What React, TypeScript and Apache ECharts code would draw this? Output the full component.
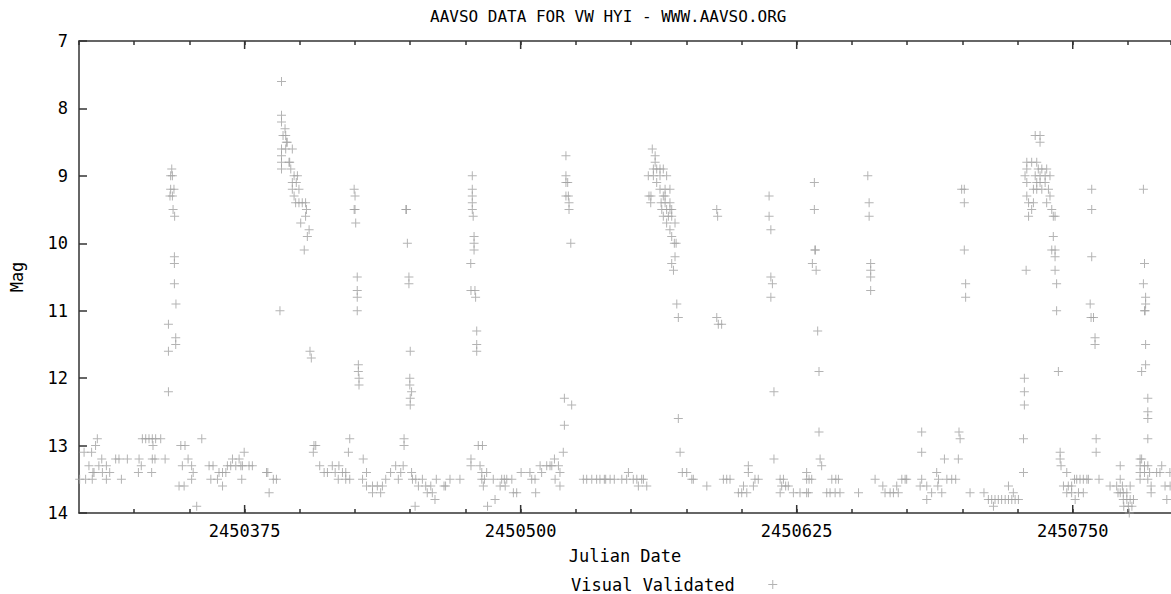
import { useEffect, useRef } from 'react';
import * as echarts from 'echarts';

const TITLE = 'AAVSO DATA FOR VW HYI - WWW.AAVSO.ORG';
const X_NAME = 'Julian Date';
const Y_NAME = 'Mag';
const SERIES_NAME = 'Visual Validated';
const JD_START = 2450300;
const JD_END = 2450794.5;
const JD_STEP = 25;
const MAJOR_TICKS = [2450375, 2450500, 2450625, 2450750];
const MAG_MIN = 7;
const MAG_MAX = 14;

// Observations as [days after JD 2450300, visual magnitude]
const quiet01: [number, number][] = [
  [0.3, 13.5], [2.3, 13.1], [3, 13.5], [4.5, 13.3], [5.7, 13.1], [6, 13.5], [6.3, 13.4], [6.8, 13.4],
  [7.5, 13.0], [8.3, 12.9], [9, 13.3], [10.3, 13.2], [10.6, 13.4], [12.4, 13.3], [12.4, 13.5], [13.9, 13.4],
  [16.6, 13.2], [18.1, 13.2], [19.2, 13.5], [21.9, 13.2], [26.9, 13.4], [27.2, 13.2], [28.2, 13.3],
  [28.7, 12.9], [30.2, 12.9], [31.7, 12.9], [32.9, 13.4], [33.2, 12.9], [33.2, 13.2], [33.5, 13.0],
  [34.4, 13.2], [34.7, 12.9], [37, 12.9], [39, 13.2],
];
const outburst01: [number, number][] = [
  [40.5, 11.2], [40.5, 11.6], [40.5, 12.2], [42, 8.9], [41.5, 9.0], [42.3, 9.0], [41.5, 9.2], [43, 9.2],
  [41.2, 9.3], [42.3, 9.3], [42.6, 9.5], [43.3, 9.6], [43.2, 10.2], [43.2, 10.3], [43.2, 10.6], [43.9, 10.9],
  [43.8, 11.4], [43.8, 11.5],
];
const quiet02: [number, number][] = [
  [45.3, 13.6], [46.1, 13.0], [46.8, 13.3], [47.6, 13.6], [48, 13.0], [49.4, 13.2], [51, 13.3], [51, 13.5],
  [51.7, 13.4], [53.3, 13.9], [55.6, 12.9], [58.9, 13.3], [59.7, 13.5], [60.7, 13.3], [62.7, 13.5],
  [63.4, 13.4], [65, 13.4], [65, 13.6], [66.5, 13.4], [67.2, 13.3], [68.7, 13.3], [69.5, 13.2], [71, 13.3],
  [72.5, 13.2], [73.3, 13.3], [73.7, 13.5], [74, 13.3], [74.8, 13.1], [77, 13.3], [78.5, 13.3],
  [84.9, 13.4], [85.5, 13.4], [86.1, 13.7], [88, 13.5], [89.4, 13.5],
];
const outburst02: [number, number][] = [
  [91.7, 7.6], [91.7, 8.1], [91.7, 8.2], [93.3, 8.3], [92.4, 8.4], [93.6, 8.4], [93.9, 8.5], [94.3, 8.5],
  [91.7, 8.6], [93.6, 8.6], [96.6, 8.6], [91.7, 8.7], [95.1, 8.8], [95.4, 8.8], [91.7, 8.8], [95.9, 8.9],
  [91.7, 8.9], [97.4, 9.0], [98.9, 9.0], [96.6, 9.1], [98.4, 9.1], [96.6, 9.2], [99.6, 9.2], [97.4, 9.3],
  [98.1, 9.4], [99.6, 9.4], [101.1, 9.4], [102.6, 9.4], [103, 9.5], [102.6, 9.6], [100.4, 9.7],
  [104.2, 9.8], [103.4, 9.9], [102, 10.1], [91, 11.0], [104.6, 11.6], [105.2, 11.7], [106.4, 13.0],
  [107.2, 13.0], [106.1, 13.1],
];
const quiet03: [number, number][] = [
  [109, 13.3], [111, 13.4], [112.5, 13.4], [114.7, 13.3], [116, 13.4], [117.7, 13.3], [117.4, 13.5],
  [119.3, 13.4], [120.8, 13.4], [120.8, 13.5], [122.6, 13.5], [122.6, 12.9], [122, 13.1],
];
const outburst03: [number, number][] = [
  [124.6, 9.2], [125, 9.3], [124.6, 9.5], [125, 9.5], [125.3, 9.7], [126, 10.5], [126, 10.7], [126, 10.8],
  [126, 11.0], [126.5, 11.8], [126.5, 11.9], [126.8, 12.0], [126.8, 12.1],
];
const quiet04: [number, number][] = [
  [128.4, 13.5], [128.7, 13.2], [130.2, 13.4], [130.2, 13.6], [132.9, 13.6], [132.9, 13.7], [135.1, 13.6],
  [136.6, 13.7], [137.4, 13.6], [138.9, 13.5], [141.1, 13.4], [143.4, 13.3], [144.6, 13.5], [145.7, 13.4],
  [146.8, 13.3], [147.2, 12.9], [147.2, 13.0],
];
const outburst04: [number, number][] = [
  [148, 9.5], [148.3, 9.5], [148.7, 10.0], [149.4, 10.5], [149.4, 10.6], [150, 11.6], [149.8, 12.0],
  [149.8, 12.1], [150.6, 12.2], [150, 12.3], [150, 12.4],
];
const quiet05: [number, number][] = [
  [150.6, 13.4], [151, 13.5], [152.2, 13.9], [152.5, 13.5], [153.7, 13.6], [155.5, 13.5], [157, 13.6],
  [157.7, 13.7], [159.3, 13.6], [160, 13.7], [161.2, 13.8], [161.8, 13.5], [165.3, 13.6], [166, 13.6],
  [168, 13.5], [172.5, 13.5],
];
const outburst05: [number, number][] = [
  [178.1, 9.0], [178.1, 9.2], [178.1, 9.3], [178.1, 9.4], [178.1, 9.5], [178.5, 9.6], [178.9, 9.9],
  [178.9, 10.0], [178.9, 10.1], [177.4, 10.3], [177.5, 10.7], [179.3, 10.7], [179.6, 10.8], [180.1, 11.3],
  [180.1, 11.5], [180.1, 11.6],
];
const quiet06: [number, number][] = [
  [177.5, 13.2], [177.5, 13.3], [180.8, 13.0], [182.7, 13.0], [181.6, 13.3], [182.4, 13.4], [182.4, 13.5],
  [183.1, 13.6], [183.6, 13.5], [184.6, 13.4], [185, 13.9], [187.6, 13.5], [188.4, 13.8], [190.7, 13.6],
  [191.4, 13.5], [192.6, 13.5], [193, 13.6], [193.7, 13.5], [196, 13.5], [196.7, 13.7], [198.2, 13.7],
  [200.2, 13.4], [204.2, 13.4], [205, 13.5], [206.5, 13.5], [206.8, 13.7], [208.8, 13.3], [209.5, 13.4],
  [211.8, 13.3], [213.3, 13.3], [214.1, 13.3], [215.3, 13.2], [215.6, 13.5], [217.1, 13.3], [217.8, 13.4],
  [217.8, 13.6], [219.3, 13.1],
];
const outburst06: [number, number][] = [
  [220.5, 8.7], [220.5, 9.0], [220.5, 9.1], [221.3, 9.1], [220.5, 9.3], [221.6, 9.3], [221.9, 9.4],
  [221.9, 9.5], [222.7, 10.0], [219.8, 12.3], [223.1, 12.4], [219.8, 12.7],
];
const quiet07: [number, number][] = [
  [228.4, 13.5], [229.9, 13.5], [232.2, 13.5], [234.4, 13.5], [235.9, 13.5], [237.9, 13.5], [238.5, 13.5],
  [240.5, 13.5], [242.4, 13.5], [245.8, 13.5], [248, 13.5], [248.8, 13.4], [251, 13.5], [252.6, 13.5],
  [253.3, 13.6], [254.8, 13.5], [255.6, 13.5], [257.1, 13.6],
];
const outburst07: [number, number][] = [
  [259.6, 8.6], [260.9, 8.7], [260.9, 8.8], [260.1, 8.9], [261.6, 8.9], [263.1, 8.9], [264.6, 8.9],
  [257.8, 9.0], [260.1, 9.0], [263.1, 9.0], [266.1, 9.0], [261.6, 9.1], [263.1, 9.2], [265.4, 9.2],
  [267.6, 9.2], [258.1, 9.3], [259, 9.3], [264.6, 9.3], [265.4, 9.3], [258.9, 9.4], [263.6, 9.4],
  [265.4, 9.4], [267.6, 9.4], [263.9, 9.5], [266.1, 9.5], [267.6, 9.5], [268.4, 9.5], [264.6, 9.6],
  [266.9, 9.6], [268.4, 9.6], [266.1, 9.7], [269.9, 9.7], [267.6, 9.8], [268.4, 9.9], [269.6, 10.0],
  [270.4, 10.0], [269.9, 10.2], [268.4, 10.3], [269.2, 10.4], [270.7, 10.9], [271.4, 11.1], [271.4, 12.6],
  [272.2, 13.1],
];
const quiet08: [number, number][] = [
  [273.2, 13.4], [275.2, 13.4], [277.5, 13.5], [278.2, 13.5], [284.3, 13.6], [288.8, 9.5], [289.2, 9.6],
  [288.8, 11.1], [289.5, 11.2], [291, 11.2], [291.8, 13.5], [293.3, 13.5], [294.8, 13.5], [298.6, 13.7],
  [300.1, 13.7], [300.9, 13.6], [302.4, 13.7], [303.1, 13.4], [303.1, 13.3], [305.4, 13.6], [306.1, 13.5],
  [307.6, 13.5],
];
const outburst08: [number, number][] = [
  [312.5, 9.3], [312.5, 9.6], [313.3, 9.8], [313.3, 10.5], [314, 10.6], [313.3, 10.8], [314.7, 12.2],
  [314.7, 13.2],
];
const quiet09: [number, number][] = [
  [317.5, 13.5], [319, 13.5], [317.5, 13.7], [318.2, 13.6], [320, 13.6], [321.2, 13.6], [323.5, 13.7],
  [326.5, 13.7], [329.5, 13.7], [329.5, 13.4], [329.5, 13.5], [330.6, 13.5], [331.8, 13.5], [330.3, 13.7],
];
const outburst09: [number, number][] = [
  [333, 9.1], [333, 9.5], [333.2, 10.1], [333.5, 10.1], [332.1, 10.3], [333.8, 10.4], [334.5, 11.3],
  [335.1, 11.9], [335.1, 12.8], [335.6, 13.2], [336.3, 13.3],
];
const quiet10: [number, number][] = [
  [338.6, 13.7], [340.1, 13.7], [340.9, 13.5], [342.4, 13.7], [342.7, 13.5], [343.9, 13.5], [344.6, 13.7],
  [353, 13.7],
];
const outburst10: [number, number][] = [
  [357.2, 9.0], [357.8, 9.4], [357.8, 9.6], [358.5, 10.3], [358.5, 10.4], [358.5, 10.5], [358.5, 10.7],
];
const quiet11: [number, number][] = [
  [360.5, 13.5], [364, 13.6], [365, 13.7], [367.3, 13.7], [368.8, 13.7], [370.3, 13.6], [371, 13.7],
  [372.6, 13.5], [374.1, 13.5], [374.8, 13.5], [380.9, 13.6], [381.6, 12.8], [381.6, 13.1], [381.6, 13.5],
  [383.9, 13.6], [383.9, 13.8], [386.1, 13.7], [388.4, 13.4], [388.9, 13.6], [389.2, 13.5], [390.7, 13.7],
  [391.9, 13.2], [393, 13.5], [395.2, 13.5], [397, 13.5],
];
const outburst11: [number, number][] = [
  [399.7, 9.2], [400.9, 9.2], [400.9, 9.4], [400.9, 10.1], [401.5, 10.6], [401.5, 10.8], [398.5, 12.8],
  [399, 12.9], [398.2, 13.2],
];
const quiet12: [number, number][] = [
  [403.5, 13.7], [409.8, 13.7], [411.8, 13.8], [413.3, 13.8], [414.1, 13.9], [414.8, 13.8], [416.3, 13.8],
  [417.8, 13.8], [419.4, 13.8], [420.9, 13.8], [420.9, 13.6], [422.4, 13.8], [423.1, 13.7], [423.9, 13.8],
  [425.4, 13.8],
];
const outburst12: [number, number][] = [
  [427.7, 13.4], [427.7, 12.9], [428.1, 12.4], [428.1, 12.2], [428.1, 12.0], [428.9, 10.4], [433, 8.4],
  [435.2, 8.4], [435.2, 8.5], [429.2, 8.8], [431.4, 8.8], [433.7, 8.8], [429.2, 8.9], [434.4, 8.9],
  [436, 8.9], [438.2, 8.9], [428.4, 9.0], [433, 9.0], [435.2, 9.0], [437.5, 9.0], [439.7, 9.0],
  [429.2, 9.1], [433.7, 9.1], [435.2, 9.1], [437.5, 9.1], [432.2, 9.2], [433.7, 9.2], [436, 9.2],
  [439, 9.2], [429.2, 9.3], [439.7, 9.3], [430, 9.4], [432.2, 9.4], [438.2, 9.4], [431.4, 9.5],
  [440.5, 9.5], [430, 9.6], [441.2, 9.6], [442, 9.6], [441.2, 9.9], [440.5, 10.1], [442, 10.1],
  [442, 10.2], [442, 10.4], [442.7, 10.6], [442.7, 11.0], [443.5, 11.9], [444.3, 13.1], [444.3, 13.2],
  [444.7, 13.3], [447.3, 13.4],
];
const quiet13: [number, number][] = [
  [445.8, 13.6], [447.3, 13.7], [448, 13.6], [449.5, 13.6], [449.5, 13.7], [450.8, 13.5], [451.1, 13.8],
  [451.8, 13.5], [452.6, 13.7], [453.3, 13.5], [454.8, 13.5], [454.8, 13.7], [456.4, 13.5], [457.1, 13.5],
];
const outburst13: [number, number][] = [
  [458.6, 9.2], [458.6, 9.5], [458.6, 10.2], [457.9, 10.9], [458.3, 11.1], [459.4, 11.1], [460.1, 11.4],
  [460.1, 11.5], [460.6, 12.9], [460.6, 13.1],
];
const quiet14: [number, number][] = [
  [461.9, 13.5], [466.9, 13.6], [469.9, 13.6], [471.5, 13.3], [471.5, 13.5], [471.5, 13.7], [472.5, 13.6],
  [470.5, 13.7], [472.9, 13.7], [474.5, 13.7], [476, 13.6], [472.9, 13.8], [474.5, 13.8], [476, 13.8],
  [477.5, 13.8], [473.1, 13.9], [475.2, 13.9], [476.8, 13.9], [475.6, 14.0],
];
const outburst14: [number, number][] = [
  [482, 9.2], [482.5, 10.3], [482, 10.6], [483, 10.8], [483, 10.9], [482.8, 11.0], [482.5, 11.0],
  [483, 11.5], [483, 11.8], [481.2, 11.9], [484, 12.3], [484, 12.5], [484, 12.6], [484, 12.9],
  [480.5, 13.2], [481.2, 13.2], [480.5, 13.3], [482.5, 13.3], [480.5, 13.4], [482.5, 13.4], [484, 13.3],
  [484.8, 13.4], [480.5, 13.5], [484, 13.5], [485.5, 13.6], [485.5, 13.7],
];
const quiet15: [number, number][] = [
  [488, 13.4], [489.5, 13.4], [490.3, 13.3], [491.8, 13.6], [494.1, 13.6], [492.6, 13.8], [494, 13.4],
];

const ALL_SEGMENTS = [
  quiet01, outburst01, quiet02, outburst02, quiet03, outburst03, quiet04, outburst04, quiet05, outburst05,
  quiet06, outburst06, quiet07, outburst07, quiet08, outburst08, quiet09, outburst09, quiet10, outburst10,
  quiet11, outburst11, quiet12, outburst12, quiet13, outburst13, quiet14, outburst14, quiet15,
];

const FONT = "'DejaVu Sans Mono', monospace";
const AXIS_COLOR = '#333333';
const MARK_COLOR = '#a0a0a0';
const PLUS = 'path://M4,0h1v9h-1zM0,4h9v1h-9z';

export default function App() {
  const ref = useRef<HTMLDivElement>(null);
  useEffect(() => {
    if (!ref.current) return;
    const chart = echarts.init(ref.current, undefined, { renderer: 'svg' });
    const points = ALL_SEGMENTS.flat().map(([d, m]) => [JD_START + d, m]);
    const isMajor = (v: number) => MAJOR_TICKS.some((t) => Math.abs(t - v) < 1e-6);
    const axisLine = { show: true, onZero: false, lineStyle: { color: AXIS_COLOR, width: 1.5 } };
    const textBase = { fontFamily: FONT, fontSize: 17, color: '#000' };
    chart.setOption({
      animation: false,
      title: {
        text: TITLE,
        left: 425,
        top: 3,
        textStyle: { fontFamily: FONT, fontSize: 16, fontWeight: 'normal', color: '#000' },
      },
      legend: {
        data: [SERIES_NAME],
        left: 566,
        top: 571,
        align: 'right',
        itemWidth: 66,
        itemHeight: 9,
        textStyle: textBase,
      },
      grid: { left: 79, top: 41, right: 0, bottom: 81, containLabel: false },
      xAxis: [
        {
          type: 'value',
          min: JD_START,
          max: JD_END,
          interval: JD_STEP,
          position: 'bottom',
          axisLine,
          axisTick: { show: true, inside: true, length: 4, lineStyle: { color: AXIS_COLOR, width: 1.5 } },
          axisLabel: {
            ...textBase,
            margin: 9,
            showMinLabel: false,
            showMaxLabel: false,
            formatter: (v: number) => (isMajor(v) ? String(Math.round(v)) : ''),
          },
          splitLine: { show: false },
          name: X_NAME,
          nameLocation: 'middle',
          nameGap: 34,
          nameTextStyle: textBase,
        },
        {
          type: 'value',
          min: JD_START,
          max: JD_END,
          interval: JD_STEP,
          position: 'top',
          axisLine,
          axisTick: { show: true, inside: true, length: 4, lineStyle: { color: AXIS_COLOR, width: 1.5 } },
          axisLabel: { show: false },
          splitLine: { show: false },
        },
      ],
      yAxis: {
        type: 'value',
        min: MAG_MIN,
        max: MAG_MAX,
        interval: 1,
        inverse: true,
        position: 'left',
        axisLine,
        axisTick: { show: true, inside: true, length: 8, lineStyle: { color: AXIS_COLOR, width: 1.5 } },
        axisLabel: { ...textBase, margin: 11 },
        splitLine: { show: false },
        name: Y_NAME,
        nameLocation: 'middle',
        nameRotate: 90,
        nameGap: 54,
        nameTextStyle: textBase,
      },
      series: [
        {
          type: 'scatter',
          name: SERIES_NAME,
          data: points,
          symbol: PLUS,
          symbolSize: 9,
          itemStyle: { color: MARK_COLOR },
          xAxisIndex: 0,
          yAxisIndex: 0,
        },
        {
          type: 'custom',
          name: 'major ticks',
          silent: true,
          data: MAJOR_TICKS.map((t) => [t, MAG_MAX]),
          xAxisIndex: 0,
          yAxisIndex: 0,
          z: 3,
          renderItem: (_params: any, api: any) => {
            const x = api.value(0);
            const b = api.coord([x, MAG_MAX]);
            const t = api.coord([x, MAG_MIN]);
            const style = { stroke: AXIS_COLOR, lineWidth: 1.5 };
            return {
              type: 'group',
              children: [
                { type: 'line', shape: { x1: b[0], y1: b[1], x2: b[0], y2: b[1] - 8 }, style },
                { type: 'line', shape: { x1: t[0], y1: t[1], x2: t[0], y2: t[1] + 8 }, style },
              ],
            };
          },
        },
      ],
    });
    return () => chart.dispose();
  }, []);
  return (
    <div
      ref={ref}
      style={{ position: 'absolute', left: 0, top: 0, width: 1171, height: 594, background: '#fff' }}
    />
  );
}
